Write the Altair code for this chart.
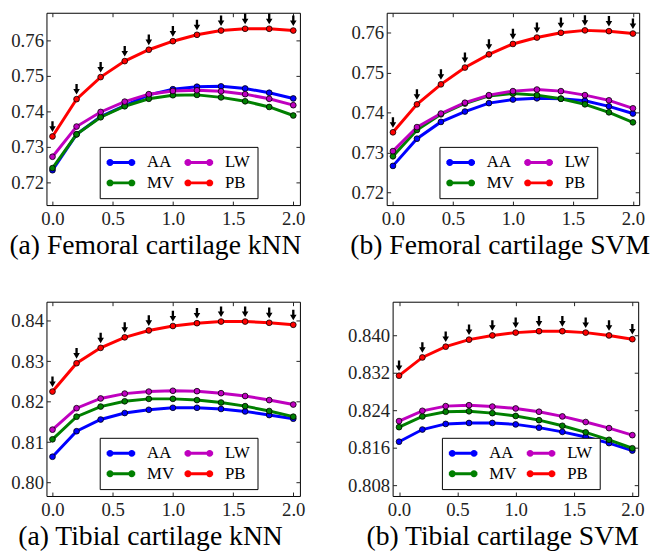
import altair as alt
import pandas as pd

FONT = "Liberation Serif"

x_vals = [0.0, 0.2, 0.4, 0.6, 0.8, 1.0, 1.2, 1.4, 1.6, 1.8, 2.0]
methods = ["AA", "MV", "LW", "PB"]          # plotting and legend order (column-wise)
method_colors = ["#0000ff", "#008000", "#bf00bf", "#ff0000"]
x_ticks = [0.0, 0.5, 1.0, 1.5, 2.0]

# (a) Femoral cartilage kNN
fem_knn_aa = [0.7234, 0.7335, 0.7385, 0.7416, 0.7446, 0.7462, 0.7469, 0.7470, 0.7464, 0.7452, 0.7436]
fem_knn_mv = [0.7240, 0.7335, 0.7383, 0.7414, 0.7435, 0.7445, 0.7446, 0.7439, 0.7428, 0.7412, 0.7388]
fem_knn_lw = [0.7272, 0.7357, 0.7398, 0.7427, 0.7448, 0.7457, 0.7459, 0.7456, 0.7448, 0.7435, 0.7417]
fem_knn_pb = [0.7329, 0.7434, 0.7496, 0.7541, 0.7573, 0.7597, 0.7615, 0.7627, 0.7632, 0.7632, 0.7627]

# (b) Femoral cartilage SVM
fem_svm_aa = [0.7267, 0.7335, 0.7377, 0.7403, 0.7424, 0.7433, 0.7436, 0.7435, 0.7430, 0.7416, 0.7398]
fem_svm_mv = [0.7291, 0.7357, 0.7396, 0.7423, 0.7442, 0.7448, 0.7444, 0.7435, 0.7421, 0.7401, 0.7376]
fem_svm_lw = [0.7304, 0.7364, 0.7398, 0.7425, 0.7444, 0.7454, 0.7458, 0.7454, 0.7444, 0.7431, 0.7411]
fem_svm_pb = [0.7351, 0.7421, 0.7471, 0.7513, 0.7546, 0.7572, 0.7588, 0.7600, 0.7606, 0.7604, 0.7598]

# (a) Tibial cartilage kNN
tib_knn_aa = [0.8064, 0.8127, 0.8156, 0.8172, 0.8180, 0.8185, 0.8185, 0.8182, 0.8176, 0.8167, 0.8158]
tib_knn_mv = [0.8107, 0.8163, 0.8188, 0.8201, 0.8207, 0.8207, 0.8204, 0.8198, 0.8189, 0.8177, 0.8163]
tib_knn_lw = [0.8131, 0.8184, 0.8208, 0.8220, 0.8225, 0.8227, 0.8226, 0.8221, 0.8214, 0.8204, 0.8193]
tib_knn_pb = [0.8225, 0.8295, 0.8333, 0.8359, 0.8376, 0.8387, 0.8394, 0.8398, 0.8398, 0.8395, 0.8390]

# (b) Tibial cartilage SVM
tib_svm_aa = [0.8173, 0.8199, 0.8211, 0.8213, 0.8213, 0.8210, 0.8203, 0.8194, 0.8183, 0.8170, 0.8154]
tib_svm_mv = [0.8204, 0.8227, 0.8237, 0.8238, 0.8234, 0.8228, 0.8219, 0.8207, 0.8193, 0.8177, 0.8159]
tib_svm_lw = [0.8217, 0.8239, 0.8249, 0.8251, 0.8248, 0.8244, 0.8237, 0.8227, 0.8215, 0.8202, 0.8187]
tib_svm_pb = [0.8314, 0.8353, 0.8376, 0.8391, 0.8400, 0.8406, 0.8409, 0.8409, 0.8406, 0.8400, 0.8392]

captions = ["(a) Femoral cartilage kNN", "(b) Femoral cartilage SVM",
            "(a) Tibial cartilage kNN", "(b) Tibial cartilage SVM"]
fem_y_ticks = [0.72, 0.73, 0.74, 0.75, 0.76]
tib_knn_y_ticks = [0.80, 0.81, 0.82, 0.83, 0.84]
tib_svm_y_ticks = [0.808, 0.816, 0.824, 0.832, 0.840]

ARROW = "M -0.22 -1 L 0.22 -1 L 0.22 -0.05 L 0.62 -0.05 L 0 1 L -0.62 -0.05 L -0.22 -0.05 Z"
LEG_SYM = ("M -2.9 -0.3 L 2.9 -0.3 L 2.9 0.3 L -2.9 0.3 Z "
           "M -2.9 0 A 0.7 0.7 0 1 1 -1.5 0 A 0.7 0.7 0 1 1 -2.9 0 Z "
           "M 1.5 0 A 0.7 0.7 0 1 1 2.9 0 A 0.7 0.7 0 1 1 1.5 0 Z")
LEG_W, LEG_H = 149, 51
TICK_DASH = [4, 3000]


def make_df(aa, mv, lw, pb):
    series = {"AA": aa, "MV": mv, "LW": lw, "PB": pb}
    rows = []
    for m in methods:
        for xv, yv in zip(x_vals, series[m]):
            rows.append({"x": xv, "y": yv, "method": m})
    return pd.DataFrame(rows)


def panel(df, caption, width, height, ydom, yticks, yfmt, xdom, cap_dx):
    xs = alt.Scale(domain=xdom, nice=False, zero=False)
    ys = alt.Scale(domain=ydom, nice=False, zero=False)
    cscale = alt.Scale(domain=methods, range=method_colors)
    leg = alt.Legend(orient="none", legendX=(width - LEG_W) / 2, legendY=height - 8 - LEG_H,
                     columns=2, title=None, symbolSize=100, symbolOffset=6, labelOffset=18,
                     columnPadding=9, rowPadding=3, padding=7, labelFont=FONT,
                     labelFontSize=17, labelColor="black", symbolType=LEG_SYM,
                     symbolStrokeWidth=0, strokeColor="black", fillColor="white",
                     cornerRadius=0)

    x_bottom = alt.Axis(values=x_ticks, format=".1f", labelPadding=5, grid=True,
                        gridDash=TICK_DASH, gridColor="#222", labelFlush=False,
                        labelOverlap=False, labelFont=FONT)
    y_left = alt.Axis(values=yticks, format=yfmt, labelPadding=3, grid=True,
                      gridDash=TICK_DASH, gridColor="#222", labelOverlap=False,
                      labelFont=FONT)
    x_top = alt.Axis(orient="top", values=x_ticks, labels=False, grid=True,
                     gridDash=TICK_DASH, gridColor="#222")
    y_right = alt.Axis(orient="right", values=yticks, labels=False, grid=True,
                       gridDash=TICK_DASH, gridColor="#222")

    base = alt.Chart(df)
    line = base.mark_line(strokeWidth=3).encode(
        x=alt.X("x:Q", scale=xs, axis=x_bottom, title=None),
        y=alt.Y("y:Q", scale=ys, axis=y_left, title=None),
        color=alt.Color("method:N", scale=cscale, legend=None),
    )
    pts = base.transform_calculate(method_pt="datum.method").mark_circle(
        size=34, stroke="black", strokeWidth=0.8, opacity=1
    ).encode(
        x=alt.X("x:Q", scale=xs, axis=None),
        y=alt.Y("y:Q", scale=ys, axis=None),
        fill=alt.Fill("method_pt:N", scale=cscale, legend=leg),
    )
    arrows = base.transform_filter(alt.datum.method == "PB").mark_point(
        shape=ARROW, size=115, filled=True, color="black", strokeWidth=0, opacity=1, yOffset=-10
    ).encode(
        x=alt.X("x:Q", scale=xs, axis=x_top, title=None),
        y=alt.Y("y:Q", scale=ys, axis=y_right, title=None),
    )
    return alt.layer(line, pts, arrows).resolve_axis(
        x="independent", y="independent"
    ).resolve_scale(color="independent", fill="independent").properties(
        width=width, height=height,
        title=alt.TitleParams(caption, orient="bottom", anchor="middle", frame="group",
                              dx=cap_dx, offset=4, font=FONT, fontSize=28,
                              fontWeight="normal", color="black"),
    )


p1 = panel(make_df(fem_knn_aa, fem_knn_mv, fem_knn_lw, fem_knn_pb), captions[0],
           257, 195, [0.7136, 0.7677], fem_y_ticks, ".2f", [-0.05, 2.055], -18)
p2 = panel(make_df(fem_svm_aa, fem_svm_mv, fem_svm_lw, fem_svm_pb), captions[1],
           256, 195, [0.7169, 0.7650], fem_y_ticks, ".2f", [-0.052, 2.052], -13)
p3 = panel(make_df(tib_knn_aa, tib_knn_mv, tib_knn_lw, tib_knn_pb), captions[2],
           257, 197, [0.7967, 0.8447], tib_knn_y_ticks, ".2f", [-0.05, 2.055], -23)
p4 = panel(make_df(tib_svm_aa, tib_svm_mv, tib_svm_lw, tib_svm_pb), captions[3],
           249, 197, [0.8057, 0.8472], tib_svm_y_ticks, ".3f", [-0.055, 2.05], -13)

row1 = alt.hconcat(p1, p2, spacing=44).resolve_scale(color="independent", fill="independent")
row2 = alt.hconcat(p3, p4, spacing=41).resolve_scale(color="independent", fill="independent")

chart = alt.vconcat(row1, row2, spacing=40).resolve_scale(
    color="independent", fill="independent"
).configure_view(stroke="black", strokeWidth=1).configure_axis(
    labelFont=FONT, labelFontSize=19, labelColor="#222", ticks=False, tickSize=0,
    domain=False, gridOpacity=1, gridWidth=1,
).properties(padding=0, background="white")

chart.save("out.html", embed_options={"renderer": "svg", "actions": False})
